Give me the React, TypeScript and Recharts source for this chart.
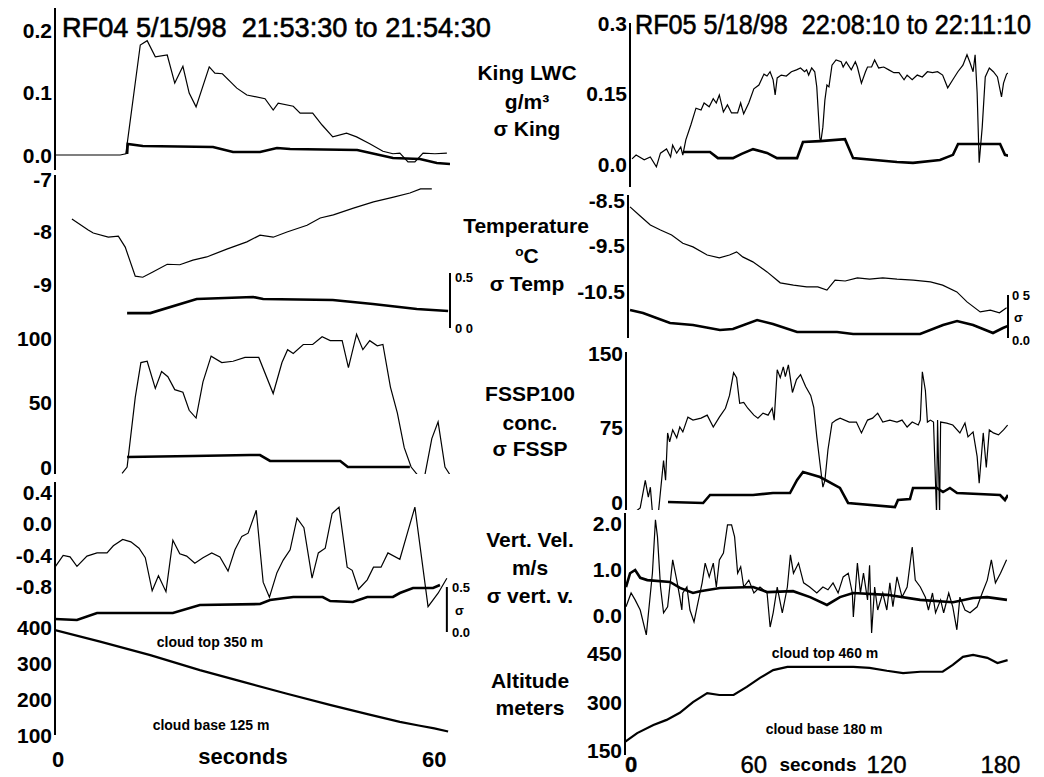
import { LineChart, Line, XAxis, YAxis, ReferenceLine } from 'recharts'

const FONT = 'Arial, "Liberation Sans", Helvetica, sans-serif'

// ---- RF04 (left column), time in seconds ----
const rf04Lwc = [[0,0],[10.4,0],[11.3,0.002],[13.6,0.176],[14.7,0.183],[16,0.157],[17.9,0.16],[19.1,0.115],[20.4,0.142],[21.4,0.099],[22.5,0.077],[24.6,0.141],[25.5,0.131],[26.7,0.13],[29,0.107],[30.6,0.096],[33.5,0.09],[34.8,0.072],[35.6,0.083],[38,0.078],[39.1,0.067],[41.1,0.067],[42.6,0.048],[44.3,0.029],[46.5,0.035],[48.1,0.029],[50.2,0.018],[52.3,0.006],[53.9,0.002],[55,0.003],[56.3,-0.011],[57.4,-0.011],[58.7,0.003],[60.6,0.002],[62.5,0.003]]
const rf04LwcSigma = [[11.5,0.0099],[11.6,0.016],[14,0.0148],[25.2,0.0142],[28.4,0.0111],[32.7,0.0111],[35.4,0.0136],[37.5,0.013],[48.2,0.0123],[53.9,0.0074],[58.2,0.0068],[60.9,0.0043],[63,0.0037]]
const rf04Temp = [[2.7,-7.75],[5.3,-7.96],[6.1,-8.02],[8.5,-8.1],[10.1,-8.08],[11.2,-8.29],[12.8,-8.85],[14,-8.87],[15.6,-8.77],[17.9,-8.62],[19.9,-8.63],[22,-8.54],[24.2,-8.48],[27.4,-8.33],[30.6,-8.19],[32.7,-8.06],[34.8,-8.1],[37,-8.0],[40.2,-7.87],[42.3,-7.73],[44.4,-7.67],[47.6,-7.54],[50.8,-7.42],[54,-7.33],[56.6,-7.25],[58.3,-7.17],[60.1,-7.17]]
const rf04TempSigma = [[11.5,0.136],[15.2,0.136],[22.6,0.264],[31.6,0.282],[33.2,0.264],[44.3,0.255],[50.7,0.218],[57.7,0.173],[62.7,0.155]]
const rf04Fssp = [[10.7,-5],[11.5,0],[12.8,54],[13.7,81],[14.7,82],[16,61],[17,74],[18,70],[19.1,60],[20.4,58],[21.4,44],[22.5,38],[23.6,66],[24.9,86],[26.6,81],[28.4,82],[30.3,85],[32.5,85],[34.8,57],[36.2,81],[37.1,91],[38,88],[39.6,95],[41.1,95],[42.6,101],[43.9,98],[45.8,98],[46.8,77],[48.1,103],[49.1,91],[50.2,98],[51.4,94],[52.3,95],[53.5,62],[54.6,42],[55.7,15],[56.8,0],[57.8,-6],[58.4,-15],[59,-6],[60.1,22],[61.1,35],[62.2,0],[63,-6]]
const rf04FsspSigma = [[11.5,7.8],[22,8.5],[31.1,9.3],[32.7,9.3],[34.3,4.7],[45.5,4.7],[46.7,0],[56.6,0]]
const rf04Vv = [[0,-0.55],[1.3,-0.4],[2.4,-0.42],[3.5,-0.54],[5.1,-0.41],[6.7,-0.37],[8.3,-0.37],[9.3,-0.28],[10.8,-0.2],[12.1,-0.23],[13.4,-0.31],[14.4,-0.43],[15.5,-0.85],[16.5,-0.66],[17.7,-0.86],[18.8,-0.21],[19.9,-0.38],[21,-0.41],[22.3,-0.5],[23.6,-0.43],[25,-0.37],[26.3,-0.42],[27.6,-0.6],[28.7,-0.33],[29.8,-0.16],[30.8,-0.12],[32.1,0.17],[33.2,-0.74],[34.2,-0.93],[35.4,-0.62],[36.4,-0.46],[37.5,-0.33],[38.6,0.07],[39.7,-0.05],[41,-0.69],[42,-0.37],[43.1,-0.31],[44.2,0.13],[45.3,0.21],[46.6,-0.55],[47.4,-0.59],[48.4,-0.83],[49.8,-0.71],[50.8,-0.55],[52,-0.55],[53.1,-0.37],[55,-0.45],[56.2,-0.12],[57.4,0.21],[59.5,-1.05],[61.1,-0.88],[62.5,-0.69]]
const rf04VvSigma = [[0,0.144],[3.5,0.133],[6.7,0.211],[18.8,0.211],[23.1,0.3],[32.7,0.311],[34.3,0.356],[38,0.389],[42.7,0.389],[43.9,0.344],[47.5,0.333],[49.8,0.389],[53.9,0.389],[55,0.433],[57.1,0.489],[60.3,0.489],[61.4,0.522]]
const rf04Alt = [[0,394],[7.2,362],[15.2,324],[23.1,282],[30,249],[37,216],[44,184],[50,158],[55,137],[58,127],[60.5,119],[62.7,110]]

// ---- RF05 (right column) ----
const rf05Lwc = [[1,0.013],[3,0.021],[7,0.011],[10,0.017],[13,-0.004],[15,0.025],[18,0.034],[20,0.017],[21,0.042],[23,0.025],[25,0.038],[26,0.021],[27.5,0.053],[30,0.085],[32.5,0.12],[35,0.116],[36.5,0.131],[39,0.123],[41,0.14],[42.5,0.131],[44,0.148],[46,0.112],[48,0.127],[50,0.11],[53,0.11],[54.5,0.131],[56,0.108],[58.5,0.131],[61,0.161],[63.5,0.169],[66,0.192],[67.5,0.188],[69,0.197],[70.5,0.18],[71.5,0.148],[72.5,0.184],[74.5,0.19],[77,0.188],[79.5,0.197],[82,0.201],[84,0.205],[86,0.197],[87,0.201],[88,0.19],[89.5,0.205],[91,0.197],[92,0.165],[93.5,0.057],[94,0.049],[95,0.08],[96,0.137],[97,0.169],[98,0.165],[99.5,0.211],[101.5,0.222],[104,0.218],[105,0.207],[106.5,0.218],[109,0.201],[111,0.218],[112,0.207],[114,0.173],[116,0.197],[117,0.207],[119,0.207],[120.5,0.222],[122.5,0.205],[125,0.207],[127.5,0.201],[130,0.195],[132.5,0.195],[135,0.18],[136.5,0.19],[139,0.18],[141.5,0.19],[144,0.186],[146.5,0.197],[149,0.195],[151.5,0.197],[154,0.19],[156.5,0.163],[159,0.18],[161.5,0.197],[164,0.211],[166,0.233],[167.5,0.216],[169,0.197],[170,0.233],[171,0.152],[172,0.005],[173.5,0.08],[175,0.186],[177,0.205],[179,0.197],[181,0.186],[183,0.144],[184,0.173],[185.5,0.192],[186.5,0.195]]
const rf05LwcSigma = [[26.1,0.074],[39.4,0.074],[43.3,0.061],[50.7,0.061],[55,0.07],[60.6,0.08],[67.5,0.072],[72.4,0.061],[82.3,0.061],[85.2,0.095],[93.6,0.097],[105.9,0.101],[109.9,0.061],[131.5,0.053],[139.4,0.051],[152.7,0.057],[159.1,0.068],[161.6,0.091],[182.3,0.091],[184.7,0.068],[186.7,0.066]]
const rf05Temp = [[0,-8.65],[5,-8.85],[10,-9.05],[15,-9.16],[20.5,-9.27],[26,-9.45],[31,-9.53],[38,-9.71],[44,-9.77],[49,-9.71],[52.5,-9.64],[55.5,-9.75],[60.5,-9.86],[67.5,-10.08],[74,-10.32],[80.5,-10.37],[87,-10.41],[92.5,-10.41],[97,-10.48],[101,-10.26],[106,-10.28],[112,-10.21],[118,-10.24],[124.5,-10.21],[131.5,-10.24],[139.5,-10.26],[148,-10.3],[154,-10.37],[161,-10.52],[166,-10.74],[172.5,-10.96],[177.5,-10.92],[182,-10.98],[185.5,-10.87]]
const rf05TempSigma = [[0,0.326],[6.4,0.291],[19.7,0.174],[31,0.151],[44.3,0.093],[50.7,0.105],[62.6,0.209],[70.4,0.163],[82.3,0.07],[102,0.07],[109.9,0.047],[142.9,0.047],[154.2,0.151],[161.1,0.198],[169,0.151],[178.8,0.058],[183.7,0.116],[186.2,0.14]]
const rf05Fssp = [[2.5,-10],[5,-6],[7.5,22],[9,5],[10,15],[11,-10],[14,-10],[16.5,42],[17.5,22],[18.5,70],[19.5,61],[21,73],[23,65],[24.5,76],[26,71],[28.5,86],[31,83],[35,85],[38,88],[41,76],[44,86],[47,95],[49,108],[51,131],[52.5,126],[54,100],[56,101],[58,95],[61,88],[63,85],[65.5,90],[68,88],[70,95],[71,83],[72.5,134],[74,126],[75.5,137],[76.5,127],[78,139],[80,111],[82,124],[84,129],[86.5,117],[89,108],[90.5,96],[92,66],[93.5,40],[95,15],[96,22],[97.5,53],[99.5,80],[101.5,83],[103.5,85],[108,81],[111.5,81],[114,70],[117,83],[119.5,85],[122,90],[124.5,81],[128,83],[131.5,81],[134,83],[136.5,76],[139,81],[142,78],[143,83],[144,132],[145.5,113],[146.5,81],[148,83],[149.5,81],[151,-12],[151.5,83],[152.5,-12],[153,81],[156,80],[159,78],[162.5,70],[165,80],[166.5,66],[169,71],[171,46],[172,19],[174,70],[175.5,35],[177,73],[179,70],[181.5,68],[184,73],[186,78]]
const rf05FsspSigma = [[18.7,8.1],[36,7.1],[39.4,15.2],[60.6,15.2],[70.4,17.2],[78.8,17.2],[82.3,30.4],[85.2,38.5],[93.6,33.4],[103.4,22.3],[107.4,7.1],[130.5,3],[132,10.1],[137.9,11.1],[139.4,22.3],[151.2,22.3],[154.2,18.2],[157.6,22.3],[161.1,17.2],[182.3,15.2],[184.7,10.1],[186.2,15.2]]
const rf05Vv = [[-2,0.2],[0.5,0.5],[2.5,0.35],[5,0.13],[8,-0.41],[11,0.93],[12.5,2.09],[13.5,1.72],[15,0.63],[16.5,0.07],[18.5,0.2],[21,1.22],[23,0.78],[24.5,0.41],[25.5,0.13],[26,0.5],[28,0.63],[29.5,0.13],[31.5,-0.13],[33,0.2],[35.5,0.72],[37,1.15],[39,0.85],[41,1.15],[42.5,0.63],[44,1.22],[46,1.37],[48,1.98],[50,1.98],[51.5,1.72],[53,0.93],[54.5,1.07],[56,0.63],[58.5,0.78],[61,0.5],[64,0.63],[67.5,0.5],[69,-0.24],[70.5,0.07],[72.5,0.63],[75,0.07],[77.5,0.63],[79,1.33],[80.5,0.93],[83,1.15],[85.5,0.72],[88.5,0.63],[92,0.5],[95,0.63],[97.5,0.57],[100,0.72],[102.5,0.5],[105,0.85],[107.5,0.93],[109.5,0.5],[110,-0.02],[112,1.15],[113.5,0.5],[115,0.93],[117,0.35],[118,1.1],[119,-0.37],[120.5,0.63],[122,0.13],[124.5,0.5],[126.5,0.13],[128,0.72],[129.5,0.2],[131.5,0.85],[134,0.41],[136.5,0.63],[139,1.5],[140.5,0.78],[143,0.63],[145.5,0.41],[147,0.13],[149,0.5],[150.5,0.07],[153,0.35],[154.5,0.07],[157,0.5],[159,0.2],[161,-0.3],[162.5,0.41],[165,0.13],[167.5,0.07],[171,0.2],[173.5,0.5],[176,0.78],[178,1.22],[180,0.72],[182.5,0.93],[185.5,1.22]]
const rf05VvSigma = [[-2,0.63],[0,0.93],[2.5,1.0],[5,0.83],[8.5,0.78],[19.7,0.74],[24.6,0.61],[31,0.5],[34.5,0.54],[44.3,0.61],[60.6,0.63],[67.5,0.52],[80.3,0.54],[88.7,0.41],[97,0.24],[103.4,0.41],[109.9,0.5],[126.6,0.46],[142.9,0.35],[159.1,0.3],[169,0.39],[175.9,0.41],[185.7,0.35]]
const rf05Alt = [[-2.5,178],[3.5,205],[11.5,230],[18,246],[24.5,268],[31,301],[38,329],[44,323],[51,323],[57.5,348],[64,376],[70.5,400],[77.5,410],[93.5,410],[110,410],[118,407],[126.5,398],[134.5,391],[143,395],[154,395],[159,416],[164,441],[169,447],[176,438],[181,422],[186,431]]

// tick values
const rf04LwcTicks = [0, 0.1, 0.2]
const rf04TempTicks = [-9, -8, -7]
const rf04FsspTicks = [0, 50, 100]
const rf04VvTicks = [-0.8, -0.4, 0, 0.4]
const rf04AltTicks = [100, 200, 300, 400]
const rf04TimeTicks = [0, 60]
const rf05LwcTicks = [0, 0.15, 0.3]
const rf05TempTicks = [-10.5, -9.5, -8.5]
const rf05FsspTicks = [0, 75, 150]
const rf05VvTicks = [0, 1, 2]
const rf05AltTicks = [150, 300, 450]
const rf05TimeTicks = [0, 60, 120, 180]

const toRows = (pts: number[][]) => pts.map(([t, v]) => ({ t, v }))
const fixed1 = (v: number) => v.toFixed(1)
const plain = (v: number) => String(v)
const lwcRight = (v: number) => (v === 0 ? '0.0' : String(v))

type Box = { x: number; y: number; w: number; h: number }

interface PanelProps {
  box: Box
  xDomain: [number, number]
  yDomain: [number, number]
  yTicks: number[]
  yFmt: (v: number) => string
  thin: number[][]
  thick: number[][]
  thickWidth?: number
  sDomain?: [number, number]
  xTicks?: number[]
  xTick?: (p: any) => any
  bracketAt?: number
}

function Panel({ box, xDomain, yDomain, yTicks, yFmt, thin, thick, thickWidth = 2.6, sDomain, xTicks, xTick, bracketAt }: PanelProps) {
  const padL = 70
  const padT = 14
  const padR = 14
  const padB = xTicks ? 40 : 14
  const sAxis = sDomain ? 's' : 'v'
  return (
    <div style={{ position: 'absolute', left: box.x - padL, top: box.y - padT }}>
      <LineChart
        width={box.w + padL + padR}
        height={box.h + padT + padB}
        margin={{ top: padT, right: padR, bottom: xTicks ? 0 : padB, left: 0 }}
      >
        <XAxis
          type="number"
          dataKey="t"
          domain={xDomain}
          allowDataOverflow
          hide={!xTicks}
          ticks={xTicks}
          interval={0}
          height={padB}
          axisLine={false}
          tickLine={false}
          tickSize={0}
          tick={xTick}
        />
        <YAxis
          yAxisId="v"
          width={padL}
          domain={yDomain}
          allowDataOverflow
          ticks={yTicks}
          interval={0}
          axisLine={{ stroke: '#000', strokeWidth: 2 }}
          tickLine={false}
          tickSize={0}
          tickMargin={3}
          tick={(p: any) => (
            <text x={p.x} y={p.y} textAnchor="end" dominantBaseline="central"
              fontSize={21} fontWeight={700} fontFamily={FONT} fill="#000">
              {yFmt(p.payload.value)}
            </text>
          )}
        />
        {sDomain && <YAxis yAxisId="s" orientation="right" hide domain={sDomain} allowDataOverflow />}
        {thin.length > 0 && (
          <Line yAxisId="v" data={toRows(thin)} dataKey="v" type="linear" stroke="#000"
            strokeWidth={1.2} dot={false} isAnimationActive={false} />
        )}
        <Line yAxisId={sAxis} data={toRows(thick)} dataKey="v" type="linear" stroke="#000"
          strokeWidth={thickWidth} dot={false} isAnimationActive={false} />
        {bracketAt !== undefined && sDomain && (
          <ReferenceLine yAxisId="s" segment={[{ x: bracketAt, y: 0 }, { x: bracketAt, y: 0.5 }]}
            stroke="#000" strokeWidth={2} ifOverflow="visible" />
        )}
      </LineChart>
    </div>
  )
}

// bottom time labels: left ones bold, right ones regular and spread a little wider
const leftTimeTick = (p: any) => (
  <text x={p.x + 3} y={p.y + 22} textAnchor="middle" dominantBaseline="central"
    fontSize={22} fontWeight={700} fontFamily={FONT} fill="#000">
    {p.payload.value}
  </text>
)
const rightShift: Record<number, number> = { 0: 1, 60: 2, 120: 13, 180: 5 }
const rightTimeTick = (p: any) => (
  <text x={p.x + (rightShift[p.payload.value] ?? 0)} y={p.y + 7} textAnchor="middle" dominantBaseline="central"
    fontSize={p.payload.value === 0 ? 22 : 24} fontWeight={p.payload.value === 0 ? 700 : 400}
    fontFamily={FONT} fill="#000" stroke="#000" strokeWidth={0.4}>
    {p.payload.value}
  </text>
)

function Txt({ x, y, size = 21, bold = true, align = 'center', sx = 1, heavy = false, children }: any) {
  const tx = align === 'center' ? '-50%' : align === 'right' ? '-100%' : '0'
  return (
    <div
      style={{
        position: 'absolute', left: x, top: y,
        transform: `translate(${tx}, -50%) scaleX(${sx})`,
        transformOrigin: align === 'left' ? '0 50%' : '50% 50%',
        fontSize: size, fontWeight: bold ? 700 : 400, fontFamily: FONT,
        whiteSpace: 'pre', lineHeight: 1, color: '#000',
        WebkitTextStroke: heavy ? '0.6px #000' : undefined,
      }}
    >
      {children}
    </div>
  )
}

const L = { x: 55, w: 395 }
const LX: [number, number] = [0, 63]

export default function App() {
  return (
    <div style={{ position: 'absolute', left: 0, top: 0, width: 1044, height: 777, background: '#fff', overflow: 'hidden' }}>
      {/* left column: RF04 */}
      <Panel box={{ ...L, y: 8, h: 162 }} xDomain={LX} yDomain={[-0.024, 0.2352]} yTicks={rf04LwcTicks}
        yFmt={fixed1} thin={rf04Lwc} thick={rf04LwcSigma} sDomain={[0, 0.1]} />
      <Panel box={{ ...L, y: 175, h: 157 }} xDomain={LX} yDomain={[-9.923, -6.904]} yTicks={rf04TempTicks}
        yFmt={plain} thin={rf04Temp} thick={rf04TempSigma} sDomain={[-0.036, 1.391]} bracketAt={63} />
      <Panel box={{ ...L, y: 332, h: 142 }} xDomain={LX} yDomain={[-5.4, 104.7]} yTicks={rf04FsspTicks}
        yFmt={plain} thin={rf04Fssp} thick={rf04FsspSigma} />
      <Panel box={{ ...L, y: 482, h: 150 }} xDomain={LX} yDomain={[-1.371, 0.528]} yTicks={rf04VvTicks}
        yFmt={fixed1} thin={rf04Vv} thick={rf04VvSigma} sDomain={[0, 1.667]} bracketAt={62.5} />
      <Panel box={{ ...L, y: 622, h: 113 }} xDomain={LX} yDomain={[100.3, 416.8]} yTicks={rf04AltTicks}
        yFmt={plain} thin={[]} thick={rf04Alt} thickWidth={2.2} xTicks={rf04TimeTicks} xTick={leftTimeTick} />

      {/* right column: RF05 */}
      <Panel box={{ x: 630, y: 23, w: 378, h: 164 }} xDomain={[0, 186.2]} yDomain={[-0.0465, 0.3]} yTicks={rf05LwcTicks}
        yFmt={lwcRight} thin={rf05Lwc} thick={rf05LwcSigma} sDomain={[0, 0.3467]} />
      <Panel box={{ x: 628, y: 195, w: 380, h: 143 }} xDomain={[-1, 186.2]} yDomain={[-11.533, -8.39]} yTicks={rf05TempTicks}
        yFmt={plain} thin={rf05Temp} thick={rf05TempSigma} sDomain={[0, 1.663]} bracketAt={186.2} />
      <Panel box={{ x: 626, y: 352, w: 382, h: 158 }} xDomain={[-2, 186.2]} yDomain={[-8.1, 152]} yTicks={rf05FsspTicks}
        yFmt={plain} thin={rf05Fssp} thick={rf05FsspSigma} sDomain={[0, 160]} />
      <Panel box={{ x: 625, y: 513, w: 383, h: 127 }} xDomain={[-2.5, 186.2]} yDomain={[-0.522, 2.239]} yTicks={rf05VvTicks}
        yFmt={fixed1} thin={rf05Vv} thick={rf05VvSigma} />
      <Panel box={{ x: 625, y: 640, w: 383, h: 115 }} xDomain={[-2.5, 186.2]} yDomain={[137.3, 493.3]} yTicks={rf05AltTicks}
        yFmt={plain} thin={[]} thick={rf05Alt} thickWidth={2.2} xTicks={rf05TimeTicks} xTick={rightTimeTick} />

      {/* titles */}
      <Txt x={62} y={28} size={28} bold={false} heavy align="left" sx={0.97}>RF04 5/15/98  21:53:30 to 21:54:30</Txt>
      <Txt x={635} y={25} size={28} bold={false} heavy align="left" sx={0.9}>RF05 5/18/98  22:08:10 to 22:11:10</Txt>

      {/* centre labels */}
      <Txt x={527} y={72}>King LWC</Txt>
      <Txt x={527} y={101}>g/m³</Txt>
      <Txt x={527} y={128}>σ King</Txt>
      <Txt x={526} y={225}>Temperature</Txt>
      <Txt x={527} y={255}><span style={{ fontSize: '0.65em', verticalAlign: '0.5em' }}>o</span>C</Txt>
      <Txt x={527} y={283}>σ Temp</Txt>
      <Txt x={530} y={393}>FSSP100</Txt>
      <Txt x={530} y={422}>conc.</Txt>
      <Txt x={530} y={448}>σ FSSP</Txt>
      <Txt x={530} y={539}>Vert. Vel.</Txt>
      <Txt x={530} y={567}>m/s</Txt>
      <Txt x={530} y={595}>σ vert. v.</Txt>
      <Txt x={530} y={680}>Altitude</Txt>
      <Txt x={530} y={707}>meters</Txt>

      {/* sigma scale labels */}
      <Txt x={455} y={277} size={13} align="left">0.5</Txt>
      <Txt x={455} y={328} size={13} align="left">0 0</Txt>
      <Txt x={452} y={587} size={13} align="left">0.5</Txt>
      <Txt x={455} y={610} size={13} align="left">σ</Txt>
      <Txt x={452} y={632} size={13} align="left">0.0</Txt>
      <Txt x={1012} y={295} size={13} align="left">0 5</Txt>
      <Txt x={1014} y={317} size={13} align="left">σ</Txt>
      <Txt x={1012} y={340} size={13} align="left">0.0</Txt>

      {/* cloud annotations and axis titles */}
      <Txt x={210} y={642} size={14}>cloud top 350 m</Txt>
      <Txt x={211} y={725} size={14}>cloud base 125 m</Txt>
      <Txt x={825} y={653} size={14}>cloud top 460 m</Txt>
      <Txt x={824} y={729} size={14}>cloud base 180 m</Txt>
      <Txt x={243} y={757} size={22}>seconds</Txt>
      <Txt x={818} y={764} size={19}>seconds</Txt>
    </div>
  )
}
